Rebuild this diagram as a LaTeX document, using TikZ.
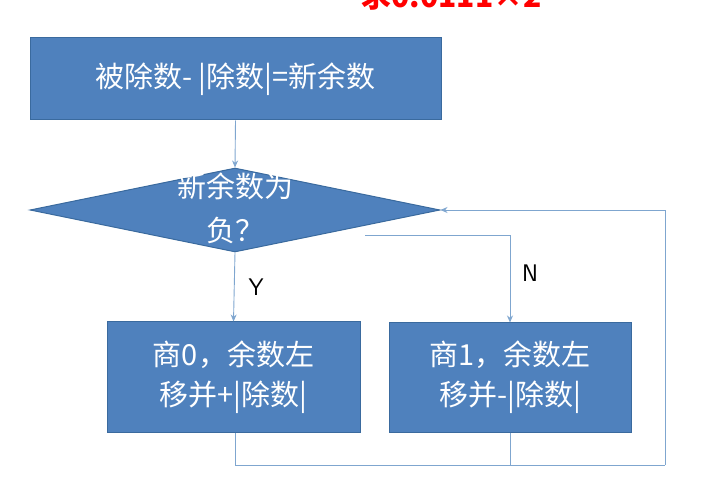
\documentclass[tikz,border=0pt]{standalone}
\usepackage{fontspec}
\setmainfont{Liberation Sans}
\newfontfamily\cjk{Noto Sans CJK SC}
\usetikzlibrary{shapes.geometric,arrows.meta}
\definecolor{boxblue}{HTML}{4F81BD}
\definecolor{boxedge}{HTML}{3A6A9E}
\definecolor{linec}{HTML}{7FA6CF}
\tikzset{
 box/.style={draw=boxedge,fill=boxblue,line width=1pt,text=white,align=center,font=\cjk\fontsize{29}{40}\selectfont},
 conn/.style={draw=linec,line width=0.9pt},
 arr/.style={conn,-{Stealth[length=7pt,width=6pt]}},
 lab/.style={font=\sffamily\fontsize{24}{28}\selectfont}
}
\begin{document}
\begin{tikzpicture}[x=1pt,y=-1pt]
\useasboundingbox (0,0) rectangle (702,489);
\begin{scope}
\clip (0,0) rectangle (702,489);
\node[text=red,font=\cjk\bfseries\fontsize{30}{32}\selectfont,anchor=base west] (title) at (358,8) {求0.0111×2};
\end{scope}
\node[box,minimum width=411,minimum height=82] (top) at (235.5,79) {被除数- |除数|=新余数};
\node[box,diamond,aspect=4.9,inner sep=0,minimum width=410,minimum height=84] (dia) at (235,210) {};
\node[align=center,text=white,font=\cjk\fontsize{29}{44}\selectfont] (dtext) at (235,208) {新余数为\\负？};
\node[box,minimum width=253,minimum height=110] (l) at (233.5,377) {商0，余数左\\移并+|除数|};
\node[box,minimum width=242,minimum height=109] (r) at (510,377.5) {商1，余数左\\移并-|除数|};
\draw[arr] (top.south) -- (dia.north);
\draw[arr] (dia.south) -- (l.north);
\coordinate (ns) at (365,235);
\draw[arr] (ns) -| (r.north);
\node[lab] (Y) at (256,287) {Y};
\node[lab] (N) at (530,273) {N};
\coordinate (lb) at (235,465);
\coordinate (rc) at (665,465);
\draw[conn] (l.south -| lb) -- (lb) -- (rc);
\draw[conn] (r.south) -- (r.south |- lb);
\draw[arr] (rc) |- (dia.east);
\end{tikzpicture}
\end{document}
